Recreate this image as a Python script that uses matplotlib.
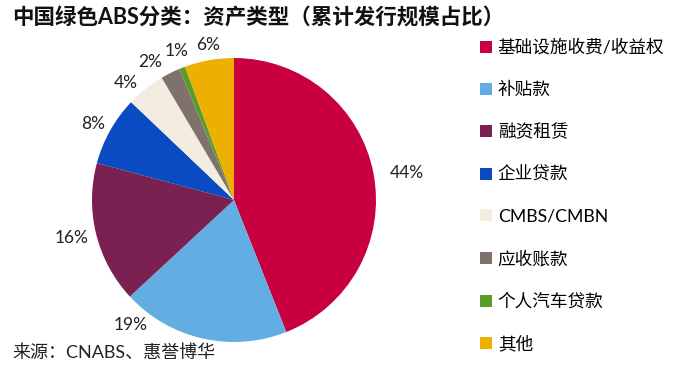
import matplotlib
matplotlib.use("Agg")
import matplotlib.pyplot as plt
from matplotlib.lines import Line2D

plt.rcParams['font.family'] = ['Lato', 'Noto Sans CJK SC', 'DejaVu Sans']

categories = ["基础设施收费/收益权", "补贴款", "融资租赁", "企业贷款",
              "CMBS/CMBN", "应收账款", "个人汽车贷款", "其他"]
shares = [44.0, 19.1, 16.1, 7.9, 4.4, 2.2, 0.7, 5.6]
colors = ["#C8003F", "#62AEE3", "#7B2152", "#0A4BC2",
          "#F3ECE0", "#7F716C", "#5C9A2B", "#EDB000"]
# where Excel put each percentage label (pie radius units, from centre)
label_pos = [(1.218, 0.190), (-0.725, -0.880), (-1.141, -0.268), (-0.993, 0.535),
             (-0.761, 0.824), (-0.592, 0.972), (-0.401, 1.049), (-0.183, 1.092)]

W, H = 686, 374
fig = plt.figure(figsize=(W / 100, H / 100), dpi=100)

cx, cy, r = 234, 200, 142
ax = fig.add_axes([(cx - r) / W, (H - cy - r) / H, 2 * r / W, 2 * r / H])
wedges, texts, autotexts = ax.pie(
    shares, colors=colors, startangle=90, counterclock=False,
    autopct='%.0f%%', radius=1, wedgeprops=dict(linewidth=0),
    textprops=dict(fontsize=12.5, color='#222222'))
for t, (x, y) in zip(autotexts, label_pos):
    t.set_position((x, y))
ax.set_xlim(-1, 1)
ax.set_ylim(-1, 1)
ax.set_aspect('equal')
ax.axis('off')

fig.text(12 / W, 1 - 18 / H, "中国绿色ABS分类：资产类型（累计发行规模占比）",
         fontsize=15.5, fontweight='bold', ha='left', va='center', color='#111111')
fig.text(12 / W, 1 - 353 / H, "来源：CNABS、惠誉博华",
         fontsize=13, ha='left', va='center', color='#222222')

handles = [Line2D([], [], marker='s', linestyle='none', markersize=8,
                  markerfacecolor=c, markeredgewidth=0) for c in colors]
fig.legend(handles, categories, loc='upper left',
           bbox_to_anchor=(474 / W, 1 - 32 / H), frameon=False,
           fontsize=12.7, labelspacing=1.47, handlelength=0.6,
           handletextpad=0.35, borderaxespad=0)

fig.savefig("out.png", dpi=100)
